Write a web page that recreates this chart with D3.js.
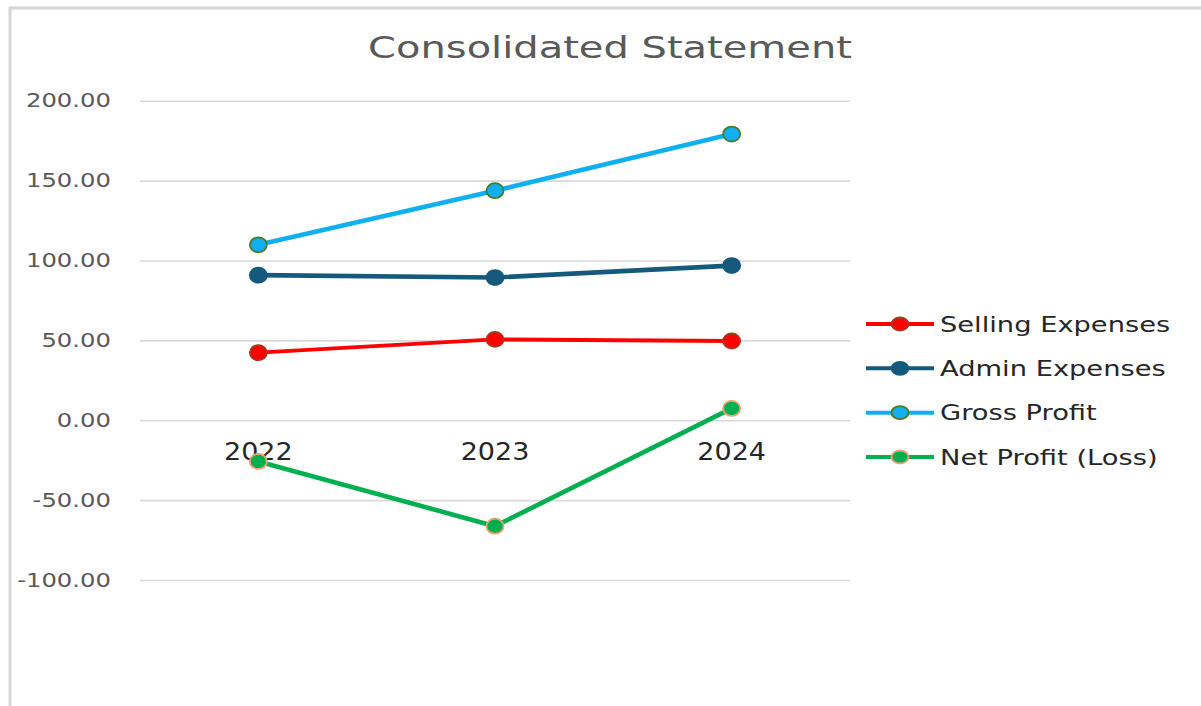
<!DOCTYPE html>
<html>
<head>
<meta charset="utf-8">
<script src="https://cdn.jsdelivr.net/npm/d3@7"></script>
<style>
  html, body { margin: 0; padding: 0; background: #fff; }
  svg { display: block; }
  text { font-family: "DejaVu Sans", sans-serif; }
</style>
</head>
<body>
<svg id="chart" width="1201" height="706"></svg>
<script>
const title = "Consolidated Statement";
const years = ["2022", "2023", "2024"];
const yTicks = [-100, -50, 0, 50, 100, 150, 200];
const sellingExpenses = [42.3, 50.6, 49.6];
const adminExpenses = [90.8, 89.3, 96.8];
const grossProfit = [109.8, 143.7, 179.1];
const netProfit = [-25.8, -66.3, 7.4];
const seriesNames = ["Selling Expenses", "Admin Expenses", "Gross Profit", "Net Profit (Loss)"];

const series = [
  { name: seriesNames[0], values: sellingExpenses, line: "#FF0000", fill: "#FF0000", stroke: "#A5391E", sw: 3.8 },
  { name: seriesNames[1], values: adminExpenses, line: "#155A7C", fill: "#155A7C", stroke: "#155A7C", sw: 4.6 },
  { name: seriesNames[2], values: grossProfit, line: "#10B0F0", fill: "#10B0F0", stroke: "#4A7A2C", sw: 4.6 },
  { name: seriesNames[3], values: netProfit, line: "#00B050", fill: "#00B050", stroke: "#F0A070", sw: 4.6 }
];

const svg = d3.select("#chart");
const plot = { left: 140, right: 850, top: 100.7, bottom: 580 };
const x = d3.scaleBand().domain(years).range([plot.left, plot.right]);
const y = d3.scaleLinear().domain([-100, 200]).range([plot.bottom, plot.top]);

// outer chart border
svg.append("rect").attr("x", 10).attr("y", 8).attr("width", 1300).attr("height", 800)
  .attr("fill", "#fff").attr("stroke", "#d6d6d6").attr("stroke-width", 3);

// title
svg.append("text").attr("transform", "translate(610,58) scale(1.29,1)")
  .attr("text-anchor", "middle")
  .attr("font-size", 31).attr("fill", "#595959").text(title);

// gridlines + y labels
const fmt = d3.format(".2f");
const yAxis = d3.axisLeft(y).tickValues(yTicks).tickSize(-(plot.right - plot.left))
  .tickFormat(d => fmt(d).replace("\u2212", "-"));
const gy = svg.append("g").attr("transform", `translate(${plot.left},0)`).call(yAxis);
gy.select(".domain").remove();
gy.selectAll(".tick line").attr("stroke", "#d9d9d9").attr("stroke-width", 1.6);
gy.selectAll(".tick text").attr("x", 0).attr("transform", "translate(-29,0) scale(1.28,1)")
  .attr("font-size", 19).attr("fill", "#595959")
  .attr("font-family", "DejaVu Sans, sans-serif");

// category labels
const gx = svg.append("g").attr("transform", `translate(0,${y(0)})`)
  .call(d3.axisBottom(x).tickSize(0).tickPadding(22));
gx.select(".domain").remove();
gx.selectAll(".tick text").attr("transform", "scale(1.08,1)")
  .attr("font-size", 25).attr("fill", "#262626")
  .attr("font-family", "DejaVu Sans, sans-serif");

// lines and markers
const line = d3.line().x((d, i) => x(years[i]) + x.bandwidth() / 2).y(d => y(d));
series.forEach(s => {
  svg.append("path").datum(s.values).attr("d", line).attr("fill", "none")
    .attr("stroke", s.line).attr("stroke-width", s.sw).attr("stroke-linejoin", "round");
  svg.selectAll(null).data(s.values).enter().append("ellipse")
    .attr("cx", (d, i) => x(years[i]) + x.bandwidth() / 2).attr("cy", d => y(d))
    .attr("rx", 8.5).attr("ry", 7.5)
    .attr("fill", s.fill).attr("stroke", s.stroke).attr("stroke-width", 1.8);
});

// legend
const legendY = d3.scalePoint().domain(seriesNames).range([324, 457]);
const lg = svg.append("g");
series.forEach(s => {
  const yy = legendY(s.name);
  lg.append("line").attr("x1", 866).attr("x2", 934).attr("y1", yy).attr("y2", yy)
    .attr("stroke", s.line).attr("stroke-width", 4);
  lg.append("ellipse").attr("cx", 900).attr("cy", yy).attr("rx", 8.5).attr("ry", 6.5)
    .attr("fill", s.fill).attr("stroke", s.stroke).attr("stroke-width", 1.8);
  lg.append("text").attr("transform", `translate(940,${yy}) scale(1.3,1)`).attr("dy", "0.36em")
    .attr("font-size", 21).attr("fill", "#262626").text(s.name);
});
</script>
</body>
</html>
